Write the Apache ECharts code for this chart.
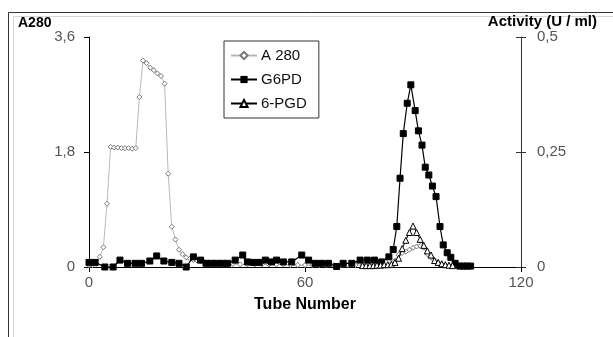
<html>
<head>
<meta charset="utf-8">
<script type="text/javascript" src="https://cdn.jsdelivr.net/npm/echarts@6/dist/echarts.min.js"></script>
</head>
<body style="margin: 0; padding: 0; background: #fff;">
<div id="myChart" style="width: 613px; height: 337px; margin: 0; padding: 0;"></div>
<script type="text/javascript">
// A280 (left axis)
var a280Tubes = [0,1,2,3,4,5,6,7,8,9,10,11,12,13,14,15,16,17,18,19,20,21,22,23,24,25,26,27,28,29,30,31,32,33,34,35,36,38,40,42,44,46,48,50,52,54,56,58,60,62,64,66,68,70,72,74,76,78,80,82,84,85,86,87,88,89,90,91,92,93,94,95,96,97,98,99,100];
var a280Values = [0.03,0.03,0.05,0.16,0.31,0.99,1.88,1.87,1.87,1.86,1.86,1.86,1.85,1.86,2.66,3.23,3.19,3.12,3.08,3.03,2.99,2.87,1.46,0.63,0.43,0.27,0.2,0.15,0.13,0.11,0.1,0.09,0.08,0.07,0.06,0.06,0.05,0.05,0.05,0.04,0.04,0.04,0.04,0.04,0.04,0.04,0.03,0.03,0.03,0.03,0.03,0.03,0.03,0.03,0.03,0.03,0.03,0.03,0.03,0.03,0.05,0.1,0.19,0.22,0.24,0.27,0.3,0.32,0.33,0.3,0.2,0.15,0.1,0.07,0.04,0.03,0.02];
// G6PD (right axis)
var g6pdTubes = [0,1.7,4.4,6.7,8.6,10.7,12.8,14.6,16.9,18.8,20.8,23,25,27,29,31,32.5,34,35.5,37,38.5,40.6,42.7,44,45.6,47.3,49,50.7,52.1,54,56.3,59.1,61,62.8,64.6,66.5,68.8,70.6,73,75.3,77.3,79.3,81.3,83.3,84.5,85.5,86.4,87.3,88.4,89.4,90.6,91.5,92.5,93.4,94.4,95.4,96.4,97.5,98.4,99.5,100.5,101.7,103,104,105,106];
var g6pdValues = [0.01,0.01,0,0,0.015,0.008,0.008,0.008,0.013,0.024,0.013,0.01,0.008,0,0.022,0.015,0.008,0.008,0.008,0.008,0.008,0.015,0.026,0.011,0.01,0.01,0.015,0.011,0.015,0.011,0.011,0.026,0.015,0.008,0.008,0.008,0.001,0.008,0.008,0.015,0.015,0.015,0.011,0.022,0.038,0.088,0.193,0.29,0.356,0.396,0.34,0.296,0.265,0.217,0.2,0.176,0.153,0.088,0.048,0.031,0.021,0.008,0.002,0.002,0.002,0.002];
// 6-PGD (right axis)
var pgdTubes = [76,77,78,79,80,81,82,83,84,85,86,87,88,89,90,91,92,93,94,95,96,97,98,99,100,101];
var pgdValues = [0.003,0.003,0.003,0.003,0.004,0.004,0.005,0.005,0.006,0.01,0.019,0.04,0.058,0.075,0.089,0.075,0.06,0.047,0.035,0.026,0.014,0.01,0.007,0.005,0.004,0.003];

var seriesNames = ['A 280', 'G6PD', '6-PGD'];

function pairs(xs, ys) {
	var out = [];
	for (var i = 0; i < xs.length; i++) out.push([xs[i], ys[i]]);
	return out;
}
function comma(v) { return String(v).replace('.', ','); }

var lbl = { fontFamily: 'Liberation Sans', fontSize: 15, color: '#555' };

var option = {
	animation: false,
	backgroundColor: '#fff',
	grid: { left: 89, right: 92, top: 37, bottom: 70, containLabel: false },
	legend: {
		orient: 'vertical',
		left: 224,
		top: 41,
		data: seriesNames,
		itemWidth: 26,
		itemHeight: 9,
		itemGap: 9,
		padding: [7, 12, 7, 6],
		borderColor: '#333',
		borderWidth: 1,
		backgroundColor: '#fff',
		textStyle: { fontFamily: 'Liberation Sans', fontSize: 15, color: '#111', padding: [0, 0, 0, -1] }
	},
	graphic: [
		{ type: 'rect', shape: { x: 8.5, y: 12.5, width: 700, height: 400 }, style: { fill: 'none', stroke: '#333', lineWidth: 1 }, silent: true },
		{ type: 'rect', shape: { x: 13.5, y: 16.5, width: 700, height: 400 }, style: { fill: 'none', stroke: '#d6d6d6', lineWidth: 1 }, silent: true },
		{ type: 'text', left: 18, top: 16, style: { text: 'A280', font: 'bold 14px "Liberation Sans"', fill: '#000' } },
		{ type: 'text', right: 16, top: 14, style: { text: 'Activity (U / ml)', font: 'bold 15px "Liberation Sans"', fill: '#000' } }
	],
	xAxis: {
		type: 'value', min: 0, max: 120, interval: 60,
		name: 'Tube Number', nameLocation: 'middle', nameGap: 30,
		nameTextStyle: { fontFamily: 'Liberation Sans', fontSize: 16, fontWeight: 'bold', color: '#000' },
		axisLine: { lineStyle: { color: '#000', width: 1 } },
		axisTick: { length: 5, lineStyle: { color: '#000' } },
		axisLabel: Object.assign({ margin: 8 }, lbl),
		splitLine: { show: false }
	},
	yAxis: [
		{
			type: 'value', position: 'left', min: 0, max: 3.6, interval: 1.8,
			axisLine: { show: true, lineStyle: { color: '#000', width: 1 } },
			axisTick: { show: true, length: 5, lineStyle: { color: '#000' } },
			axisLabel: Object.assign({ margin: 14, formatter: comma }, lbl),
			splitLine: { show: false }
		},
		{
			type: 'value', position: 'right', min: 0, max: 0.5, interval: 0.25,
			axisLine: { show: true, lineStyle: { color: '#333', width: 1 } },
			axisTick: { show: true, length: 5, lineStyle: { color: '#333' } },
			axisLabel: Object.assign({ margin: 16, formatter: comma }, lbl),
			splitLine: { show: false }
		},
		{
			type: 'value', position: 'right', min: 0, max: 0.5, interval: 0.25,
			axisLine: { show: false },
			axisTick: { show: true, inside: true, length: 5, lineStyle: { color: '#333' } },
			axisLabel: { show: false },
			splitLine: { show: false }
		}
	],
	series: [
		{
			name: seriesNames[0], type: 'line', yAxisIndex: 0, z: 2,
			data: pairs(a280Tubes, a280Values),
			symbol: 'diamond', symbolSize: 5,
			lineStyle: { color: '#b8b8b8', width: 1 },
			itemStyle: { color: '#fff', borderColor: '#777', borderWidth: 1 }
		},
		{
			name: seriesNames[1], type: 'line', yAxisIndex: 1, z: 3,
			data: pairs(g6pdTubes, g6pdValues),
			symbol: 'rect', symbolSize: 6,
			lineStyle: { color: '#000', width: 1.2 },
			itemStyle: { color: '#000', borderColor: '#000' }
		},
		{
			name: seriesNames[2], type: 'line', yAxisIndex: 1, z: 4,
			data: pairs(pgdTubes, pgdValues),
			symbol: 'triangle', symbolSize: 6,
			lineStyle: { color: '#000', width: 1 },
			itemStyle: { color: '#fff', borderColor: '#000', borderWidth: 1 }
		}
	]
};
echarts.init(document.getElementById('myChart')).setOption(option);
</script>
</body>
</html>
